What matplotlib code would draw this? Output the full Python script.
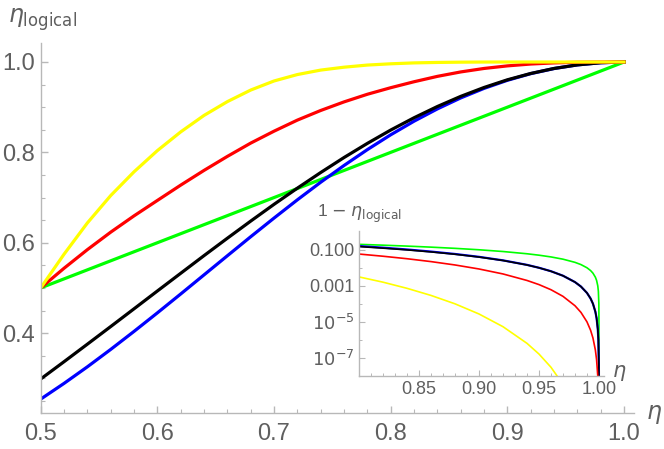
import matplotlib
matplotlib.use("Agg")
import matplotlib.pyplot as plt
from matplotlib.ticker import FixedLocator, MultipleLocator, NullFormatter

# main panel: eta_logical against eta
eta = [0.50, 0.52, 0.54, 0.56, 0.58, 0.60, 0.62, 0.64, 0.66, 0.68, 0.70, 0.72, 0.74,
       0.76, 0.78, 0.80, 0.82, 0.84, 0.86, 0.88, 0.90, 0.92, 0.94, 0.96, 0.98, 1.00]
yellow = [0.5000, 0.5746, 0.6438, 0.7044, 0.7570, 0.8039, 0.8453, 0.8818, 0.9123, 0.9379,
          0.9580, 0.9722, 0.9821, 0.9885, 0.9932, 0.9960, 0.9980, 0.9990, 0.9996, 0.9999,
          1.0000, 1.0000, 1.0000, 1.0000, 1.0000, 1.0000]
red = [0.5000, 0.5435, 0.5847, 0.6234, 0.6595, 0.6936, 0.7275, 0.7601, 0.7911, 0.8205,
       0.8469, 0.8714, 0.8927, 0.9117, 0.9286, 0.9431, 0.9563, 0.9682, 0.9780, 0.9857,
       0.9914, 0.9955, 0.9980, 0.9994, 0.9999, 1.0000]
black = [0.2984, 0.3367, 0.3755, 0.4145, 0.4538, 0.4932, 0.5324, 0.5715, 0.6100, 0.6479,
         0.6850, 0.7208, 0.7554, 0.7886, 0.8199, 0.8494, 0.8766, 0.9015, 0.9239, 0.9436,
         0.9606, 0.9746, 0.9857, 0.9936, 0.9984, 1.0000]
blue = [0.2539, 0.2887, 0.3254, 0.3639, 0.4038, 0.4448, 0.4866, 0.5289, 0.5712, 0.6133,
        0.6546, 0.6950, 0.7339, 0.7710, 0.8061, 0.8389, 0.8690, 0.8962, 0.9205, 0.9416,
        0.9595, 0.9742, 0.9855, 0.9936, 0.9984, 1.0000]
green_eta = [0.5, 1.0]
green = [0.5, 1.0]

# inset: 1 - eta_logical on a log scale
eta_in = [0.80, 0.82, 0.84, 0.86, 0.88, 0.90, 0.92, 0.94, 0.95, 0.96, 0.97, 0.98,
          0.985, 0.99, 0.993, 0.995, 0.997, 0.998, 0.999, 0.9995, 0.9999, 0.99999,
          0.999999, 0.9999999, 0.99999999, 0.999999999]
yellow_in = [0.0031, 0.00158, 0.00072, 0.00029, 9.9e-05, 2.7e-05, 5.3e-06, 6.3e-07,
             1.6e-07, 2.95e-08, 3.3e-09, 1.45e-10, 1.5e-11, 6.05e-13, 3.55e-14, 2.44e-15,
             4.14e-17, 1.63e-18, 6.4e-21, 2.51e-23, 6.43e-29, 6.43e-37, 6.43e-45, 6.43e-53,
             6.43e-61, 6.43e-69]
red_in = [0.0579, 0.0437, 0.0318, 0.022, 0.0143, 0.00856, 0.00453, 0.00197, 0.00116, 0.000602,
          0.000258, 7.76e-05, 3.3e-05, 9.85e-06, 3.39e-06, 1.24e-06, 2.69e-07, 7.98e-08,
          9.99e-09, 1.25e-09, 1e-11, 1e-14, 1e-17, 1e-20, 1e-23, 1e-26]
black_in = [0.151, 0.123, 0.0985, 0.0761, 0.0564, 0.0394, 0.0254, 0.0143, 0.00995, 0.00638,
            0.0036, 0.0016, 0.0009, 0.0004, 0.000196, 0.0001, 3.6e-05, 1.6e-05, 4e-06, 1e-06,
            4e-08, 4e-10, 4e-12, 4e-14, 4e-16, 4e-18]
blue_in = [0.161, 0.131, 0.104, 0.0795, 0.0584, 0.0405, 0.0258, 0.0145, 0.01, 0.00642,
           0.00361, 0.0016, 0.0009, 0.0004, 0.000196, 0.0001, 3.6e-05, 1.6e-05, 4e-06, 1e-06,
           4e-08, 4e-10, 4e-12, 4e-14, 4e-16, 4e-18]
green_in = [0.2, 0.18, 0.16, 0.14, 0.12, 0.1, 0.08, 0.06, 0.05, 0.04, 0.03, 0.02,
            0.015, 0.01, 0.007, 0.005, 0.003, 0.002, 0.001, 0.0005, 1e-4, 1e-5,
            1e-6, 1e-7, 1e-8, 1e-9]

plt.rcParams['font.family'] = ['Liberation Sans', 'DejaVu Sans']
plt.rcParams['mathtext.fontset'] = 'dejavusans'

txt = '#5f5f5f'
axc = '#b8b8b8'

fig = plt.figure(figsize=(6.64, 4.49), dpi=100)

# main axes
ax = fig.add_axes([0.0613, 0.0795, 0.8935, 0.8247])
ax.plot(green_eta, green, color='#00ff00', lw=2.3)
ax.plot(eta, blue, color='#0000ff', lw=2.3)
ax.plot(eta, black, color='black', lw=2.3)
ax.plot(eta, red, color='#ff0000', lw=2.3)
ax.plot(eta, yellow, color='#ffff00', lw=2.3)
ax.set_xlim(0.5, 1.0085)
ax.set_ylim(0.2225, 1.042)
for s in ['top', 'right']:
    ax.spines[s].set_visible(False)
for s in ['left', 'bottom']:
    ax.spines[s].set_color(axc)
    ax.spines[s].set_linewidth(1.0)
ax.xaxis.set_major_locator(FixedLocator([0.5, 0.6, 0.7, 0.8, 0.9, 1.0]))
ax.xaxis.set_minor_locator(MultipleLocator(0.02))
ax.yaxis.set_major_locator(FixedLocator([0.4, 0.6, 0.8, 1.0]))
ax.yaxis.set_minor_locator(MultipleLocator(0.05))
ax.set_xticklabels(['0.5', '0.6', '0.7', '0.8', '0.9', '1.0'])
ax.set_yticklabels(['0.4', '0.6', '0.8', '1.0'])
ax.tick_params(which='major', direction='in', length=5, width=1, color=axc,
               labelsize=17, labelcolor=txt)
ax.tick_params(which='minor', direction='in', length=3, width=0.8, color=axc)
ax.tick_params(axis='x', pad=7)
ax.tick_params(axis='y', pad=4)
fig.text(8 / 664, 1 - 20 / 449, r'$\eta_{\mathrm{logical}}$', fontsize=17,
         color=txt, ha='left', va='center')
fig.text(654 / 664, 1 - 414 / 449, r'$\eta$', fontsize=17, color=txt,
         ha='center', va='center')

# inset axes
ins = fig.add_axes([359 / 664, (449 - 375.7) / 449, 245 / 664, 145 / 449])
ins.patch.set_alpha(0)
ins.plot(eta_in, green_in, color='#00ff00', lw=1.2)
ins.plot(eta_in, blue_in, color='#0000ff', lw=1.6)
ins.plot(eta_in, black_in, color='black', lw=1.2)
ins.plot(eta_in, red_in, color='#ff0000', lw=1.2)
ins.plot(eta_in, yellow_in, color='#ffff00', lw=1.2)
ins.set_yscale('log')
ins.set_xlim(0.8, 1.0042)
ins.set_ylim(1e-8, 10 ** 0.06)
for s in ['top', 'right']:
    ins.spines[s].set_visible(False)
for s in ['left', 'bottom']:
    ins.spines[s].set_color(axc)
    ins.spines[s].set_linewidth(1.0)
ins.xaxis.set_major_locator(FixedLocator([0.85, 0.90, 0.95, 1.00]))
ins.xaxis.set_minor_locator(MultipleLocator(0.01))
ins.xaxis.set_minor_formatter(NullFormatter())
ins.set_xticklabels(['0.85', '0.90', '0.95', '1.00'])
ins.yaxis.set_major_locator(FixedLocator([1e-1, 1e-3, 1e-5, 1e-7]))
ins.yaxis.set_minor_locator(FixedLocator([1e-2, 1e-4, 1e-6]))
ins.yaxis.set_minor_formatter(NullFormatter())
ins.set_yticklabels(['0.100', '0.001', r'$10^{-5}$', r'$10^{-7}$'])
ins.tick_params(which='major', direction='in', length=4, width=0.8, color=axc,
                labelsize=13, labelcolor=txt)
ins.tick_params(which='minor', direction='in', length=2.5, width=0.7, color=axc)
ins.tick_params(axis='x', pad=4)
ins.tick_params(axis='y', pad=3)
fig.text(360 / 664, 1 - 214 / 449, r'1 $-$ $\eta_{\mathrm{logical}}$', fontsize=12.5,
         color=txt, ha='center', va='center')
fig.text(619 / 664, 1 - 373 / 449, r'$\eta$', fontsize=15, color=txt,
         ha='center', va='center')

fig.savefig('out.png', dpi=100)
